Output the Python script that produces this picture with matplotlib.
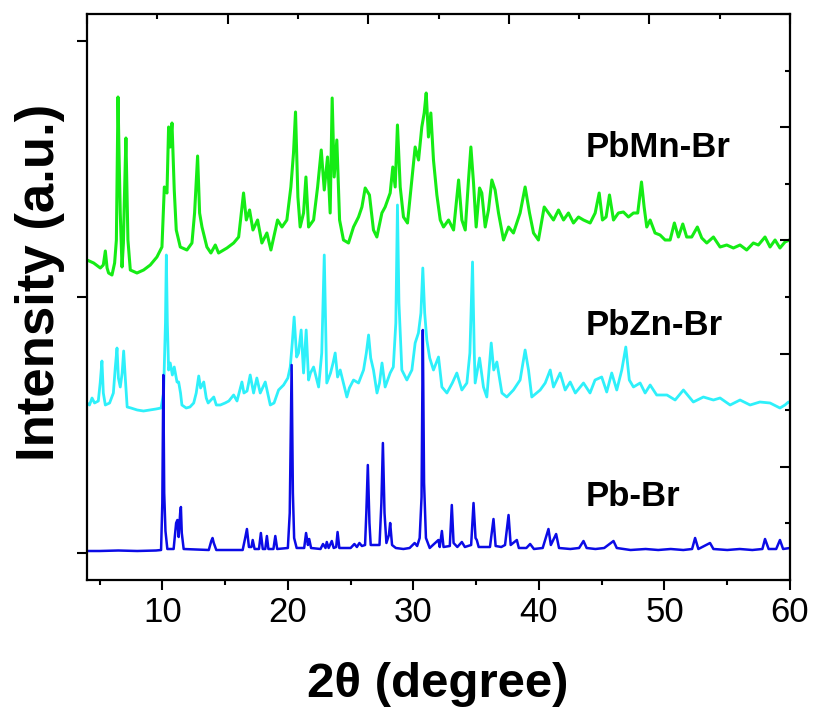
import matplotlib
matplotlib.use("Agg")
import matplotlib.pyplot as plt
from matplotlib.ticker import MultipleLocator, FixedLocator, NullFormatter

plt.rcParams['font.family'] = ['Liberation Sans', 'DejaVu Sans']

# ---------------- data (2theta in degrees, intensity in a.u.; stacked) ----------------
pb_x = [4.0, 5.0, 6.5, 8.0, 9.5, 9.9, 10.0, 10.08, 10.15, 10.25, 10.4, 10.9, 11.1, 11.2, 11.3,
        11.42, 11.48, 11.55, 11.7, 13.7, 13.9, 14.0, 14.1, 14.3, 16.4, 16.6, 16.74, 16.9, 17.1,
        17.2, 17.35, 17.7, 17.85, 18.0, 18.2, 18.33, 18.45, 18.85, 19.0, 19.15, 20.0, 20.15,
        20.3, 20.4, 20.5, 20.7, 21.3, 21.45, 21.6, 21.7, 21.85, 22.6, 22.8, 23.0, 23.1, 23.25,
        23.5, 23.65, 23.85, 23.96, 24.1, 25.0, 25.3, 25.5, 25.7, 25.9, 26.15, 26.25, 26.37,
        26.5, 26.6, 27.3, 27.45, 27.57, 27.7, 27.85, 28.05, 28.15, 28.3, 28.6, 29.2, 29.7,
        30.1, 30.3, 30.5, 30.65, 30.75, 30.85, 31.0, 31.3, 31.99, 32.1, 32.27, 32.4, 32.9,
        33.06, 33.2, 33.5, 33.86, 34.1, 34.6, 34.79, 34.95, 35.05, 35.2, 36.1, 36.38, 36.55,
        37.0, 37.3, 37.58, 37.75, 38.24, 38.4, 39.0, 39.3, 39.6, 40.3, 40.76, 40.95, 41.37,
        41.6, 42.5, 43.2, 43.55, 43.8, 44.5, 45.2, 45.94, 46.2, 47.3, 48.5, 49.5, 50.5, 51.5,
        52.2, 52.44, 52.7, 53.63, 53.9, 55.0, 56.0, 57.0, 57.8, 58.01, 58.3, 58.9, 59.2,
        59.45, 60.0]
pb_y = [2, 2, 2.5, 2, 2.5, 3, 50, 178, 60, 22, 4, 4, 30, 33, 16,
        40, 46, 20, 4, 3, 12, 15, 10, 3, 3, 15, 24, 6, 6,
        13, 4, 4, 20, 4, 4, 17, 4, 4, 17, 4, 5, 40,
        188, 60, 15, 5, 5, 20, 8, 14, 5, 4, 9, 5, 11, 5,
        12, 5, 6, 21, 5, 5, 9, 6, 10, 7, 8, 40, 88,
        30, 8, 8, 50, 110, 40, 10, 18, 30, 8, 5, 4, 5,
        10, 7, 15, 56, 223, 70, 15, 5, 13, 6, 22, 6, 7,
        48, 10, 6, 11, 6, 8, 50, 15, 13, 6, 6, 34, 7,
        6, 8, 38, 8, 13, 5, 5, 9, 4, 5, 24, 8, 19,
        5, 4, 5, 12, 5, 4, 5, 12, 5, 3, 4, 3, 4, 3,
        4, 15, 4, 10, 4, 3, 4, 3, 4, 14, 4, 4, 13,
        4, 5]

zn_x = [4.0, 4.2, 4.4, 4.6, 4.9, 5.05, 5.19, 5.3, 5.46, 5.8, 6.1, 6.25, 6.39, 6.5, 6.65, 6.8,
        6.92, 7.05, 7.2, 7.5, 8.0, 8.5, 9.0, 9.5, 9.9, 10.1, 10.25, 10.32, 10.4, 10.5, 10.63,
        10.8, 10.95, 11.17, 11.3, 11.45, 11.56, 11.9, 12.2, 12.5, 12.7, 12.9, 13.05, 13.3,
        13.5, 13.65, 14.1, 14.3, 14.62, 15.0, 15.3, 15.68, 15.95, 16.34, 16.5, 16.75, 17.0,
        17.27, 17.53, 17.8, 18.2, 18.6, 18.9, 19.26, 19.66, 20.0, 20.19, 20.35, 20.5, 20.7,
        20.85, 21.06, 21.25, 21.46, 21.65, 21.8, 22.05, 22.45, 22.7, 22.9, 23.1, 23.4, 23.6,
        23.77, 23.96, 24.17, 24.7, 24.9, 25.23, 25.63, 26.03, 26.25, 26.43, 26.6, 26.82, 27.1,
        27.3, 27.5, 27.75, 28.15, 28.4, 28.6, 28.73, 28.85, 29.08, 29.48, 29.88, 30.14, 30.4,
        30.6, 30.75, 30.9, 31.07, 31.3, 31.6, 32.0, 32.27, 32.67, 33.1, 33.46, 33.86, 34.26,
        34.5, 34.71, 34.85, 34.92, 35.27, 35.58, 35.85, 36.2, 36.4, 36.65, 37.05, 37.44,
        37.97, 38.5, 38.9, 39.17, 39.43, 40.1, 40.5, 40.9, 41.16, 41.69, 42.09, 42.49, 42.9,
        43.55, 44.07, 44.47, 45.0, 45.4, 45.8, 46.2, 46.6, 46.92, 47.2, 47.53, 48.06, 48.46,
        48.86, 49.38, 50.2, 50.85, 51.51, 52.3, 53.1, 53.9, 54.43, 55.23, 56.02, 56.82, 57.6,
        58.41, 59.2, 59.6, 59.87, 60.0]
zn_y = [150, 148, 155, 150, 152, 170, 192, 160, 148, 150, 160, 185, 205, 175, 166, 180,
        202, 175, 146, 145, 143, 142, 143, 144, 145, 160, 230, 298, 230, 183, 190,
        178, 186, 171, 171, 160, 148, 145, 146, 150, 160, 177, 165, 171,
        155, 150, 156, 148, 148, 150, 152, 158, 152, 171, 160, 162, 178,
        160, 175, 160, 171, 148, 150, 163, 168, 175, 186, 210, 236, 196,
        200, 223, 180, 223, 173, 180, 186, 166, 200, 298, 170, 180, 190,
        200, 176, 183, 156, 165, 173, 170, 183, 200, 218, 195, 183, 160,
        170, 190, 166, 180, 186, 230, 348, 250, 183, 173, 183, 210, 220,
        240, 285, 240, 213, 195, 183, 196, 166, 160, 170, 180, 163, 170,
        200, 291, 200, 170, 195, 166, 156, 210, 183, 191, 160, 156,
        163, 173, 203, 183, 156, 163, 170, 183, 166, 180, 163, 171, 160,
        170, 160, 173, 176, 161, 180, 163, 183, 206, 173, 166, 170, 160,
        168, 158, 158, 153, 163, 151, 156, 153, 155, 148, 153, 148, 151,
        150, 145, 148, 151, 150]

mn_x = [4.0, 4.53, 5.06, 5.3, 5.46, 5.6, 5.72, 5.99, 6.2, 6.34, 6.47, 6.55, 6.65, 6.79, 6.9,
        6.97, 7.1, 7.2, 7.26, 7.45, 7.98, 8.51, 9.04, 9.57, 9.97, 10.16, 10.37, 10.5, 10.63,
        10.77, 10.95, 11.11, 11.43, 11.96, 12.36, 12.57, 12.81, 12.97, 13.16, 13.55, 13.87,
        14.22, 14.48, 15.15, 15.68, 16.08, 16.29, 16.47, 16.69, 16.95, 17.22, 17.59, 17.93,
        18.33, 18.65, 19.18, 19.53, 19.92, 20.24, 20.45, 20.61, 20.8, 20.98, 21.25, 21.44,
        21.65, 22.05, 22.37, 22.66, 22.9, 23.16, 23.37, 23.53, 23.69, 23.9, 24.12, 24.43,
        24.83, 25.23, 25.63, 25.9, 26.16, 26.5, 26.82, 27.09, 27.49, 27.75, 28.15, 28.36,
        28.55, 28.73, 28.95, 29.21, 29.53, 29.88, 30.14, 30.41, 30.67, 30.86, 31.02, 31.2,
        31.39, 31.6, 31.87, 32.14, 32.4, 32.8, 33.2, 33.6, 33.86, 34.13, 34.39, 34.58, 34.79,
        35.0, 35.27, 35.45, 35.72, 35.98, 36.25, 36.51, 36.78, 37.18, 37.58, 37.97, 38.5,
        38.9, 39.25, 39.57, 39.96, 40.42, 40.76, 41.16, 41.56, 41.96, 42.35, 42.75, 43.15,
        43.55, 44.08, 44.48, 44.8, 45.06, 45.35, 45.62, 45.94, 46.33, 46.73, 47.13, 47.53,
        47.87, 48.17, 48.38, 48.59, 48.86, 49.25, 49.65, 50.05, 50.45, 50.79, 51.11, 51.46,
        51.77, 52.17, 52.62, 52.97, 53.37, 53.9, 54.43, 54.96, 55.49, 56.02, 56.55, 57.08,
        57.48, 58.01, 58.41, 58.81, 59.2, 59.6, 59.95]
mn_y = [293, 290, 285, 288, 302, 285, 280, 278, 290, 313, 456, 400, 340, 286, 310,
        350, 415, 350, 313, 283, 280, 283, 288, 296, 306, 366, 360, 426, 406,
        430, 363, 323, 306, 303, 310, 340, 397, 340, 326, 306, 300,
        308, 300, 305, 310, 316, 340, 360, 333, 343, 323, 333, 310,
        320, 303, 333, 326, 333, 366, 400, 441, 356, 326, 340, 376,
        326, 333, 366, 403, 363, 396, 340, 455, 376, 413, 333, 313,
        310, 326, 336, 346, 365, 358, 323, 316, 340, 346, 360, 386,
        366, 428, 366, 336, 330, 373, 406, 393, 426, 440, 460, 416,
        440, 393, 358, 333, 326, 333, 323, 373, 333, 323, 373, 406, 370,
        326, 365, 360, 326, 343, 373, 363, 340, 313, 326, 320, 340,
        366, 340, 320, 313, 346, 340, 333, 343, 333, 340, 330, 336,
        333, 330, 340, 360, 333, 336, 358, 333, 340, 341, 336, 340,
        340, 371, 346, 326, 333, 320, 318, 313, 313, 330, 316, 329,
        316, 316, 326, 315, 310, 316, 306, 308, 305, 308, 303, 310,
        308, 316, 306, 313, 305, 311, 313]

labels = ["PbMn-Br", "PbZn-Br", "Pb-Br"]
colors = ["#15EC15", "#2EF0FA", "#0B0BE6"]
x_ticks = [10, 20, 30, 40, 50, 60]
y_ticks = [0, 256, 512]

# ---------------- figure ----------------
W, H = 813, 711
fig = plt.figure(figsize=(W / 100, H / 100), dpi=100)
L, R, B, T = 87, 790, 580, 14
pos = [L / W, 1 - B / H, (R - L) / W, (B - T) / H]
ax = fig.add_axes(pos)

ax.plot(mn_x, mn_y, color=colors[0], lw=2.2)
ax.plot(zn_x, zn_y, color=colors[1], lw=2.0)
ax.plot(pb_x, pb_y, color=colors[2], lw=1.8)

ax.set_xlim(4, 60)
ax.set_ylim(-27, 539)
ax.xaxis.set_major_locator(FixedLocator(x_ticks))
ax.xaxis.set_minor_locator(MultipleLocator(5))
ax.yaxis.set_major_locator(FixedLocator(y_ticks))
ax.yaxis.set_minor_locator(FixedLocator([]))
ax.set_yticklabels([])
ax.tick_params(axis='x', which='major', direction='out', length=7.5, width=1.5,
               labelsize=25, pad=4, top=False)
ax.tick_params(axis='x', which='minor', direction='out', length=3.8, width=1.5, top=False)
ax.tick_params(axis='y', which='major', direction='out', length=7.5, width=1.5, right=False)
for s in ax.spines.values():
    s.set_linewidth(1.6)

# inner frame ticks (top and right)
ax2 = fig.add_axes(pos, frameon=False)
ax2.patch.set_visible(False)
ax2.set_xlim(0, 1)
ax2.set_ylim(0, 1)
ax2.xaxis.tick_top()
ax2.yaxis.tick_right()
ax2.xaxis.set_major_locator(MultipleLocator(0.2))
ax2.xaxis.set_minor_locator(MultipleLocator(0.1))
ax2.yaxis.set_major_locator(MultipleLocator(0.2))
ax2.yaxis.set_minor_locator(MultipleLocator(0.1))
ax2.xaxis.set_major_formatter(NullFormatter())
ax2.yaxis.set_major_formatter(NullFormatter())
ax2.tick_params(which='major', direction='in', length=7.5, width=1.5)
ax2.tick_params(which='minor', direction='in', length=3.8, width=1.5)

# series labels
fig.text(586 / W, 1 - 157 / H, labels[0], fontsize=25, fontweight='bold', ha='left', va='baseline')
fig.text(586 / W, 1 - 335 / H, labels[1], fontsize=25, fontweight='bold', ha='left', va='baseline')
fig.text(586 / W, 1 - 506 / H, labels[2], fontsize=25, fontweight='bold', ha='left', va='baseline')

# axis labels
fig.text(438 / W, 1 - 697 / H, "2θ (degree)", fontsize=35.5, fontweight='bold', ha='center', va='baseline')
fig.text(40 / W, 1 - 282 / H, "Intensity (a.u.)", fontsize=38, fontweight='bold',
         rotation=90, ha='center', va='center')

fig.savefig("out.png", dpi=100)
